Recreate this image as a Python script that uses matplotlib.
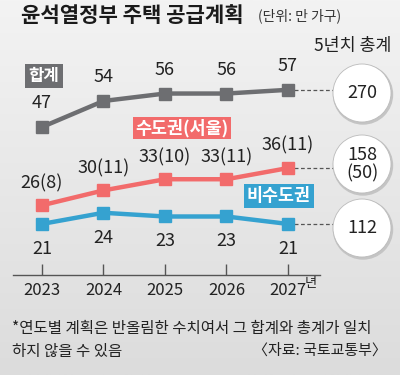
import numpy as np
import matplotlib.pyplot as plt
from matplotlib.patches import Circle

plt.rcParams['font.family'] = ['Noto Sans CJK KR', 'DejaVu Sans']

years = [2023, 2024, 2025, 2026, 2027]
total = [47, 54, 56, 56, 57]
capital = [26, 30, 33, 33, 36]
capital_seoul = [8, 11, 10, 11, 11]
non_capital = [21, 24, 23, 23, 21]
sums = ['270', '158\n(50)', '112']

c_gray = '#6d6e71'
c_red = '#f26b6b'
c_blue = '#35a2d0'

W, H = 400, 375
fig = plt.figure(figsize=(4, 3.75), dpi=100)

# background gradient
bg = fig.add_axes([0, 0, 1, 1], zorder=0)
grad = np.linspace(0, 1, 256).reshape(-1, 1)
bg.imshow(grad, cmap=plt.matplotlib.colors.LinearSegmentedColormap.from_list('g', ['#f3f3f3', '#dcdcdc']),
          aspect='auto', extent=[0, 1, 0, 1])
bg.axis('off')

# main axes
ax = fig.add_axes([13 / W, (H - 275) / H, 307 / W, 215 / H], zorder=2)
ax.patch.set_alpha(0)
ax.set_xlim(2022.53, 2027.52)
ax.set_ylim(7.3, 65)
for s in ['top', 'right', 'left']:
    ax.spines[s].set_visible(False)
ax.spines['bottom'].set_color('#555555')
ax.spines['bottom'].set_linewidth(1)
ax.set_yticks([])
ax.set_xticks(years)
ax.set_xticklabels([str(y) for y in years], fontsize=12, color='#222222')
ax.tick_params(axis='x', direction='in', length=8, width=1, color='#555555', pad=5)

for vals, col in [(total, c_gray), (capital, c_red), (non_capital, c_blue)]:
    ax.plot(years, vals, color=col, lw=3.2, marker='s', ms=9, zorder=3)
    ax.plot([years[-1], 2028.25], [vals[-1], vals[-1]], color='#555555', lw=0.9,
            ls=(0, (3, 2)), clip_on=False, zorder=1)

for x, v in zip(years, total):
    ax.annotate(str(v), (x, v), xytext=(0, 17), textcoords='offset points',
                ha='center', va='center', fontsize=13, color='#222222')
for x, v, s in zip(years, capital, capital_seoul):
    ax.annotate(f'{v}({s})', (x, v), xytext=(0, 16), textcoords='offset points',
                ha='center', va='center', fontsize=13, color='#222222')
for x, v in zip(years, non_capital):
    ax.annotate(str(v), (x, v), xytext=(0, -18), textcoords='offset points',
                ha='center', va='center', fontsize=13, color='#222222')

# overlay in pixel coords
ov = fig.add_axes([0, 0, 1, 1], zorder=3)
ov.set_xlim(0, W)
ov.set_ylim(H, 0)
ov.axis('off')

ov.text(21, 16, '윤석열정부 주택 공급계획', fontsize=15.2, fontweight='bold',
        color='#1a1a1a', va='center', ha='left')
ov.text(258, 16, '(단위: 만 가구)', fontsize=10, color='#333333', va='center', ha='left')
ov.text(392, 46, '5년치 총계', fontsize=12.5, color='#222222',
        va='center', ha='right')

for cy, txt in zip([93, 164, 228], sums):
    ov.add_patch(Circle((363, cy + 1.5), 29.5, color='#c4c4c4', zorder=1))
    ov.add_patch(Circle((362, cy), 29, facecolor='white', edgecolor='#bbbbbb', lw=0.6, zorder=2))
    ov.text(362, cy, txt, fontsize=13, ha='center', va='center', color='#222222',
            linespacing=1.05, zorder=3)

ov.text(44, 76, '합계', fontsize=12, fontweight='bold', color='white', ha='center', va='center',
        bbox=dict(boxstyle='square,pad=0.2', fc=c_gray, ec='none'))
ov.text(182, 128, '수도권(서울)', fontsize=12.5, fontweight='bold', color='white', ha='center',
        va='center', bbox=dict(boxstyle='square,pad=0.12', fc=c_red, ec='none'))
ov.text(279, 196, '비수도권', fontsize=12.5, fontweight='bold', color='white', ha='center',
        va='center', bbox=dict(boxstyle='square,pad=0.2', fc=c_blue, ec='none'))

ov.text(311, 284, '년', fontsize=9.5, color='#222222', ha='center', va='center')

ov.text(12, 328, '*연도별 계획은 반올림한 수치여서 그 합계와 총계가 일치', fontsize=11.2,
        color='#222222', ha='left', va='center')
ov.text(12, 351, '하지 않을 수 있음', fontsize=11.2, color='#222222', ha='left', va='center')
ov.text(387, 351, '〈자료: 국토교통부〉', fontsize=10.8, color='#222222', ha='right', va='center')

fig.savefig('out.png', dpi=100)
